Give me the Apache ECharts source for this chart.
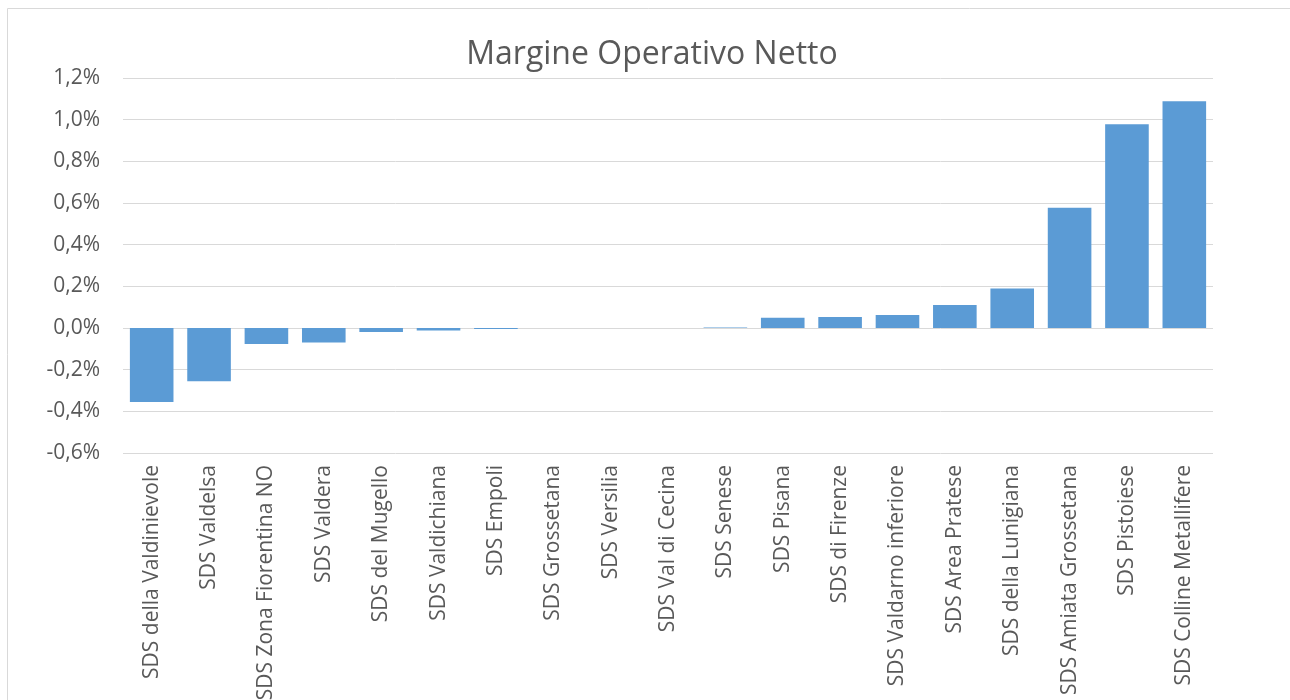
<!DOCTYPE html>
<html>
<head>
<meta charset="utf-8">
<script src="https://cdn.jsdelivr.net/npm/echarts@6/dist/echarts.min.js"></script>
<style>
  html, body { margin: 0; padding: 0; background: #fff; }
  #chart { width: 1290px; height: 700px; }
</style>
</head>
<body>
<div id="chart"></div>
<script>
var categories = [
  "SDS della Valdinievole", "SDS Valdelsa", "SDS Zona Fiorentina NO", "SDS Valdera",
  "SDS del Mugello", "SDS Valdichiana", "SDS Empoli", "SDS Grossetana", "SDS Versilia",
  "SDS Val di Cecina", "SDS Senese", "SDS Pisana", "SDS di Firenze", "SDS Valdarno inferiore",
  "SDS Area Pratese", "SDS della Lunigiana", "SDS Amiata Grossetana", "SDS Pistoiese",
  "SDS Colline Metallifere"
];
// valori in %
var values = [
  -0.355, -0.255, -0.077, -0.069, -0.019, -0.012, -0.005, 0, 0,
  0, 0.003, 0.049, 0.053, 0.062, 0.11, 0.19, 0.577, 0.978, 1.088
];

var textColor = "#595959";
var gridColor = "#d9d9d9";

var myChart = echarts.init(document.getElementById("chart"));

function fmtPct(v) {
  return v.toFixed(1).replace(".", ",") + "%";
}

myChart.setOption({
  animation: false,
  textStyle: { fontFamily: "Open Sans" },
  title: {
    text: "Margine Operativo Netto",
    left: 647,
    top: 34,
    textAlign: "center",
    textStyle: { color: textColor, fontSize: 32, fontWeight: "normal", fontFamily: "Open Sans" }
  },
  graphic: [{
    type: "polyline",
    shape: { points: [[7.5, 700], [7.5, 8.5], [1290, 8.5]] },
    style: { stroke: gridColor, fill: null, lineWidth: 1 },
    silent: true
  }],
  grid: {
    left: 123, right: 77, top: 78, bottom: 247,
    containLabel: false,
    outerBoundsMode: "none"
  },
  xAxis: {
    type: "category",
    data: categories,
    axisLine: { show: false },
    axisTick: { show: false },
    axisLabel: {
      rotate: 90,
      interval: 0,
      margin: 12,
      color: textColor,
      fontSize: 21,
      fontFamily: "Open Sans"
    }
  },
  yAxis: {
    type: "value",
    min: -0.6,
    max: 1.2,
    interval: 0.2,
    axisLine: { show: false },
    axisTick: { show: false },
    splitLine: { lineStyle: { color: gridColor, width: 1 } },
    axisLabel: {
      margin: 23,
      color: textColor,
      fontSize: 21,
      fontFamily: "Open Sans",
      formatter: fmtPct
    }
  },
  series: [{
    type: "bar",
    data: values,
    barCategoryGap: "24%",
    itemStyle: { color: "#5b9bd5" }
  }]
});
</script>
</body>
</html>
